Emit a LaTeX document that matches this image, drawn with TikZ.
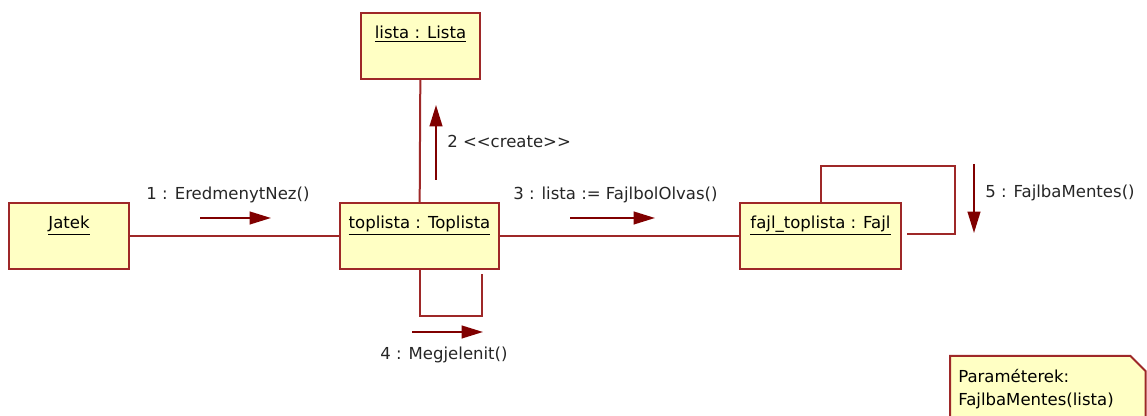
\documentclass[tikz,border=0pt]{standalone}
\usepackage{fontspec}
\newfontfamily\umlfont{DejaVu Sans}
\usetikzlibrary{arrows.meta,backgrounds}
\definecolor{objfill}{RGB}{255,255,196}
\definecolor{objline}{RGB}{158,40,40}
\definecolor{msgred}{RGB}{128,0,0}
\begin{document}
\begin{tikzpicture}[x=0.75pt, y=-0.75pt, font=\umlfont\fontsize{12.4}{17.25}\selectfont,
  obj/.style={draw=objline, fill=objfill, line width=1.5pt, anchor=north west, inner sep=0pt, text height=19.5pt, text depth=30pt, align=center},
  link/.style={draw=objline, line width=1.5pt},
  msg/.style={draw=msgred, line width=1.5pt, -{Triangle[length=16pt,width=9.5pt]}},
  msglbl/.style={inner sep=0pt, text=black!85}]
\useasboundingbox (0,0) rectangle (1147,416);
\clip (0,0) rectangle (1147,416);
% objects
\node[obj, minimum width=90pt] (jatek) at (8,202) {\underline{Jatek}};
\node[obj, minimum width=119.25pt] (toplista) at (339,202) {\underline{toplista : Toplista}};
\node[obj, minimum width=89.25pt] (lista) at (360,12) {\underline{lista : Lista}};
\node[obj, minimum width=120.75pt] (fajl) at (739,202) {\underline{fajl\_toplista : Fajl}};
% links
\draw[link] (jatek) -- (toplista);
\draw[link] (toplista) -- (fajl);
\draw[link] (lista) -- (toplista);
\draw[link] (toplista.south) -- ++(0,46) -| ++(62,-42);
\draw[link] (fajl.north) -- ++(0,-36) -| ++(134,68) -- ++(-48,0);
% messages
\coordinate (m1a) at (200,218); \coordinate (m1b) at (271,218);
\draw[msg] (m1a) -- (m1b);
\node[msglbl] (m1) at (228,195) {1 : EredmenytNez()};
\coordinate (m2a) at (436,180); \coordinate (m2b) at (436,105);
\draw[msg] (m2a) -- (m2b);
\node[msglbl, anchor=west] (m2) at (447,141) {2 <\kern0pt<create>\kern0pt>};
\coordinate (m3a) at (570,218); \coordinate (m3b) at (655,218);
\draw[msg] (m3a) -- (m3b);
\node[msglbl, anchor=west] (m3) at (513,195) {3 : lista := FajlbolOlvas()};
\coordinate (m4a) at (412,332); \coordinate (m4b) at (483,332);
\draw[msg] (m4a) -- (m4b);
\node[msglbl] (m4) at (444,355) {4 : Megjelenit()};
\coordinate (m5a) at (974,164); \coordinate (m5b) at (974,233);
\draw[msg] (m5a) -- (m5b);
\node[msglbl, anchor=west] (m5) at (985,193) {5 : FajlbaMentes()};
% note
\node[anchor=north west, align=left, text width=134.25pt, inner xsep=6pt, inner ysep=10pt] (note) at (950,356) {Paraméterek:\\FajlbaMentes(lista)};
\begin{scope}[on background layer]
\draw[link, fill=objfill] (note.south west) -- (note.north west) -- ([xshift=-11.25pt]note.north east) -- ([yshift=-11.25pt]note.north east) -- (note.south east);
\end{scope}
\end{tikzpicture}
\end{document}
